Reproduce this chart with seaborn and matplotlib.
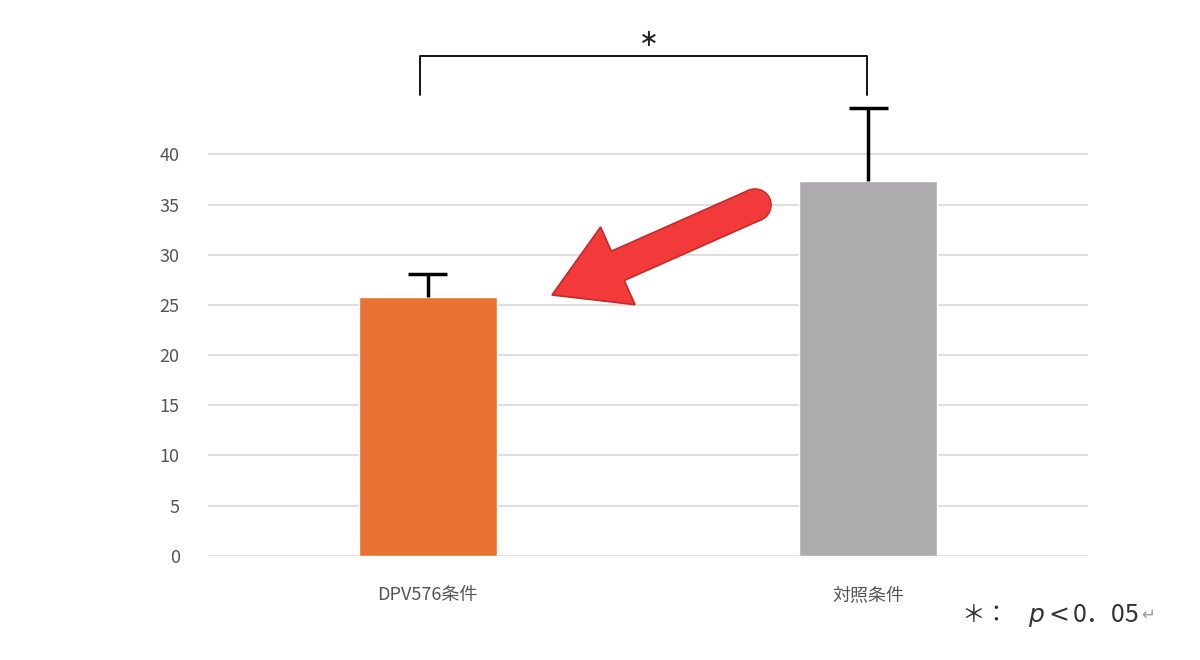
import matplotlib
matplotlib.use("Agg")
import matplotlib.pyplot as plt
import matplotlib.patches as mpatches
import seaborn as sns
import pandas as pd

conditions = ["DPV576条件", "対照条件"]
means = [25.8, 37.4]
errors = [2.3, 7.2]
bar_colors = ["#E97132", "#ADABAE"]
y_ticks = [0, 5, 10, 15, 20, 25, 30, 35, 40]
sig_label = "∗"
bracket_y = 49.8
bracket_drop = 45.9

sns.set_theme(style="white")
plt.rcParams['font.family'] = ['Noto Sans CJK JP', 'DejaVu Sans']

df = pd.DataFrame({"condition": conditions, "mean": means})

fig = plt.figure(figsize=(12, 6.6), dpi=100)
ax = fig.add_axes([0.173, 0.158, 0.734, 0.76])

sns.barplot(data=df, x="condition", y="mean", hue="condition",
            palette=bar_colors, width=0.312, ax=ax, legend=False, saturation=1)

# upper error bars only
xs = range(len(means))
tops = [m + e for m, e in zip(means, errors)]
ax.vlines(xs, means, tops, color="black", linewidth=2.5, zorder=1)
ax.hlines(tops, [x - 0.044 for x in xs], [x + 0.044 for x in xs], color="black", linewidth=2.5, zorder=1)

ax.set_xlim(-0.5, 1.5)
ax.set_ylim(0, 50)
ax.set_yticks(y_ticks)
ax.yaxis.grid(True, color="#D9D9D9", linewidth=1.2)
ax.set_axisbelow(True)
for s in ax.spines.values():
    s.set_visible(False)
ax.set_xlabel("")
ax.set_ylabel("")
ax.tick_params(axis="y", colors="#555555", labelsize=13, length=0, pad=20)
ax.tick_params(axis="x", colors="#555555", labelsize=13, length=0, pad=22)

# significance bracket
ax.plot([-0.018, -0.018, 0.997, 0.997], [bracket_drop, bracket_y, bracket_y, bracket_drop],
        color="black", linewidth=1.3, clip_on=False)
ax.text(0.503, bracket_y + 0.5, sig_label, ha="center", va="bottom", fontsize=17, color="#222222")

# red arrow (inches from bottom-left)
red, dark = "#F23A3A", "#C42A2A"
fig.add_artist(mpatches.Circle((7.55, 4.55), 0.16, transform=fig.dpi_scale_trans,
                               facecolor=red, edgecolor=dark, linewidth=1.2, zorder=4))
fig.add_artist(mpatches.FancyArrow(7.55, 4.55, -2.03, -0.9, width=0.32, head_width=0.85,
                                   head_length=0.72, length_includes_head=True,
                                   transform=fig.dpi_scale_trans, facecolor=red,
                                   edgecolor=dark, linewidth=1.2, zorder=5))
fig.add_artist(mpatches.Circle((7.55, 4.55), 0.155, transform=fig.dpi_scale_trans,
                               facecolor=red, edgecolor="none", zorder=6))

# footnote
fy = 1 - 615 / 660
fig.text(0.801, fy, "＊：", fontsize=17, color="#333333", va="center")
fig.text(0.870, fy, "p", fontsize=18, color="#333333", style="italic", va="center", ha="right",
         family=['DejaVu Sans'])
fig.text(0.874, fy, "<", fontsize=18, color="#333333", va="center", ha="left",
         family=['DejaVu Sans'])
fig.text(0.950, fy, "0．05", fontsize=18, color="#333333", va="center", ha="right")
fig.text(0.951, fy, "↵", fontsize=12, color="#999999", va="center", family=['DejaVu Sans'])

plt.savefig("out.png", dpi=100)
plt.close()
